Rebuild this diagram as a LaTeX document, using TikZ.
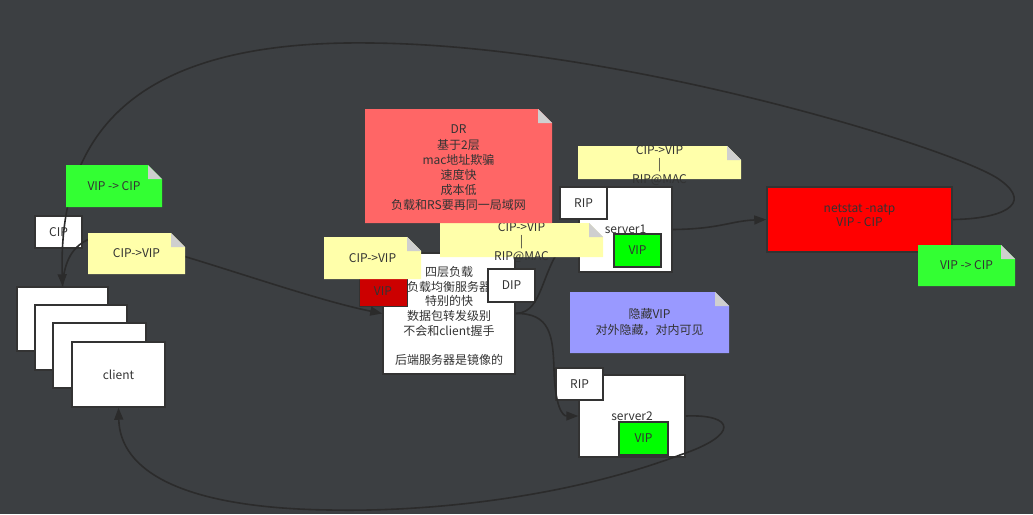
\documentclass[tikz,border=0pt]{standalone}
\usepackage{fontspec}
\setmainfont{Noto Sans CJK SC}
\usetikzlibrary{arrows.meta}
\definecolor{bgc}{HTML}{3C3F42}
\definecolor{linec}{HTML}{2B2B2B}
\definecolor{edgec}{HTML}{333333}
\definecolor{txtc}{HTML}{333333}
\definecolor{noteyellow}{HTML}{FFFFAA}
\definecolor{notegreen}{HTML}{33FF33}
\definecolor{notered}{HTML}{FF6666}
\definecolor{noteblue}{HTML}{9999FF}
\definecolor{foldgray}{HTML}{CFCFCF}
\definecolor{vipgreen}{HTML}{00FF00}
\definecolor{vipred}{HTML}{CC0000}
\definecolor{boxred}{HTML}{FF0000}
% sticky note: [node opts]{name}{cx,cy}{w}{h}{colour}{text}
\newcommand\stickynote[7][]{%
  \fill[#6] ([shift={(-#4/2,-#5/2)}]#3) -- ([shift={(#4/2-14,-#5/2)}]#3) -- ([shift={(#4/2,-#5/2+14)}]#3) -- ([shift={(#4/2,#5/2)}]#3) -- ([shift={(-#4/2,#5/2)}]#3) -- cycle;
  \fill[foldgray] ([shift={(#4/2-14,-#5/2)}]#3) -- ([shift={(#4/2-14,-#5/2+14)}]#3) -- ([shift={(#4/2,-#5/2+14)}]#3) -- cycle;
  \node[minimum width=#4pt, minimum height=#5pt, #1] (#2) at (#3) {#7};
}
\begin{document}
\begin{tikzpicture}[x=1pt,y=-1pt,
  every node/.style={font=\fontsize{12}{14.7}\selectfont, text=txtc, inner sep=0pt, align=center},
  box/.style={draw=edgec, line width=1.5pt, fill=white},
  vipbox/.style={box, fill=vipgreen},
  link/.style={draw=linec, line width=1.6pt, -{Triangle[length=12pt,width=9pt]}}]
\fill[bgc] (0,0) rectangle (1033,514);
\useasboundingbox (0,0) rectangle (1033,514);

% client stack
\node[box, minimum width=91pt, minimum height=64pt] (c1) at (62.5,319) {};
\node[box, minimum width=92pt, minimum height=65pt] (c2) at (81,337.5) {};
\node[box, minimum width=93pt, minimum height=65pt] (c3) at (99.5,355.5) {};
\node[box, minimum width=93pt, minimum height=65pt] (client) at (118.5,374.5) {client};
\node[box, minimum width=47pt, minimum height=32pt] (cip) at (58.5,232) {CIP};

% load balancer
\node[box, minimum width=132pt, minimum height=121pt,
  label={[yshift=-2.5pt]center:四层负载\\负载均衡服务器\\特别的快\\数据包转发级别\\不会和client握手\\[14.7pt]后端服务器是镜像的}] (lb) at (449,313.5) {};
\node[box, fill=vipred, line width=1pt, minimum width=48pt, minimum height=29pt] (vipr) at (383,291.5) {VIP};
\node[box, minimum width=47pt, minimum height=33pt] (dip) at (511.5,285.5) {DIP};

% server1
\node[box, minimum width=93pt, minimum height=85pt] (s1) at (625.5,229.5) {server1};
\node[box, minimum width=47pt, minimum height=32pt] (rip1) at (583.5,203) {RIP};
\node[vipbox, minimum width=47pt, minimum height=33pt] (vip1) at (637.5,250.5) {VIP};

% netstat
\node[box, fill=boxred, minimum width=185pt, minimum height=65pt,
  label={[yshift=4pt]center:netstat -natp\\VIP - CIP}] (netstat) at (859.5,219.5) {};

% server2
\node[box, minimum width=106pt, minimum height=82pt] (s2) at (632,416) {server2};
\node[box, minimum width=47pt, minimum height=32pt] (rip2) at (579.5,384) {RIP};
\node[vipbox, minimum width=49pt, minimum height=33pt] (vip2) at (643.5,438.5) {VIP};

% connectors
\draw[link] (netstat.east) .. controls (1000,219) and (1035,205) .. (1000,180)
  .. controls (960,150) and (620,45) .. (370,43)
  .. controls (150,40) and (58,120) .. (c1.north);
\draw[link] (c1.north) .. controls (64,262) and (72,245) .. (92,238)
  .. controls (120,228) and (290,295) .. (lb.west);
\draw[link] (lb.east) .. controls (545,313) and (540,265) .. (s1.west);
\draw[link] (lb.east) .. controls (550,313) and (553,335) .. (554,370)
  .. controls (555,405) and (562,416) .. (s2.west);
\draw[link] (s1.east) .. controls (720,229) and (730,221) .. (netstat.west);
\draw[link] (s2.east) .. controls (735,414) and (740,435) .. (680,455)
  .. controls (560,500) and (420,512) .. (330,510)
  .. controls (180,508) and (120,470) .. (client.south);

% notes
\stickynote{noteG1}{114,186}{96}{42}{notegreen}{VIP -> CIP}
\stickynote{noteY1}{136.5,253.5}{97}{41}{noteyellow}{CIP->VIP}
\stickynote[font=\fontsize{12}{14.5}\selectfont, yshift=-2.5pt]{noteY3}{521.5,240}{163}{34}{noteyellow}{CIP->VIP\\|\\RIP@MAC}
\stickynote{noteY2}{372.5,258}{97}{42}{noteyellow}{CIP->VIP}
\stickynote[font=\fontsize{12}{15.2}\selectfont, yshift=-2pt]{dr}{458.5,166}{187}{114}{notered}{DR\\基于2层\\mac地址欺骗\\速度快\\成本低\\负载和RS要再同一局域网}
\stickynote[font=\fontsize{12}{14.5}\selectfont, yshift=-3pt]{noteY4}{659.5,162.5}{163}{33}{noteyellow}{CIP->VIP\\|\\RIP@MAC}
\stickynote{noteG2}{966.5,265.5}{97}{41}{notegreen}{VIP -> CIP}
\stickynote[font=\fontsize{12}{16}\selectfont]{noteB}{649.5,322.5}{159}{61}{noteblue}{隐藏VIP\\对外隐藏，对内可见}
\end{tikzpicture}
\end{document}
